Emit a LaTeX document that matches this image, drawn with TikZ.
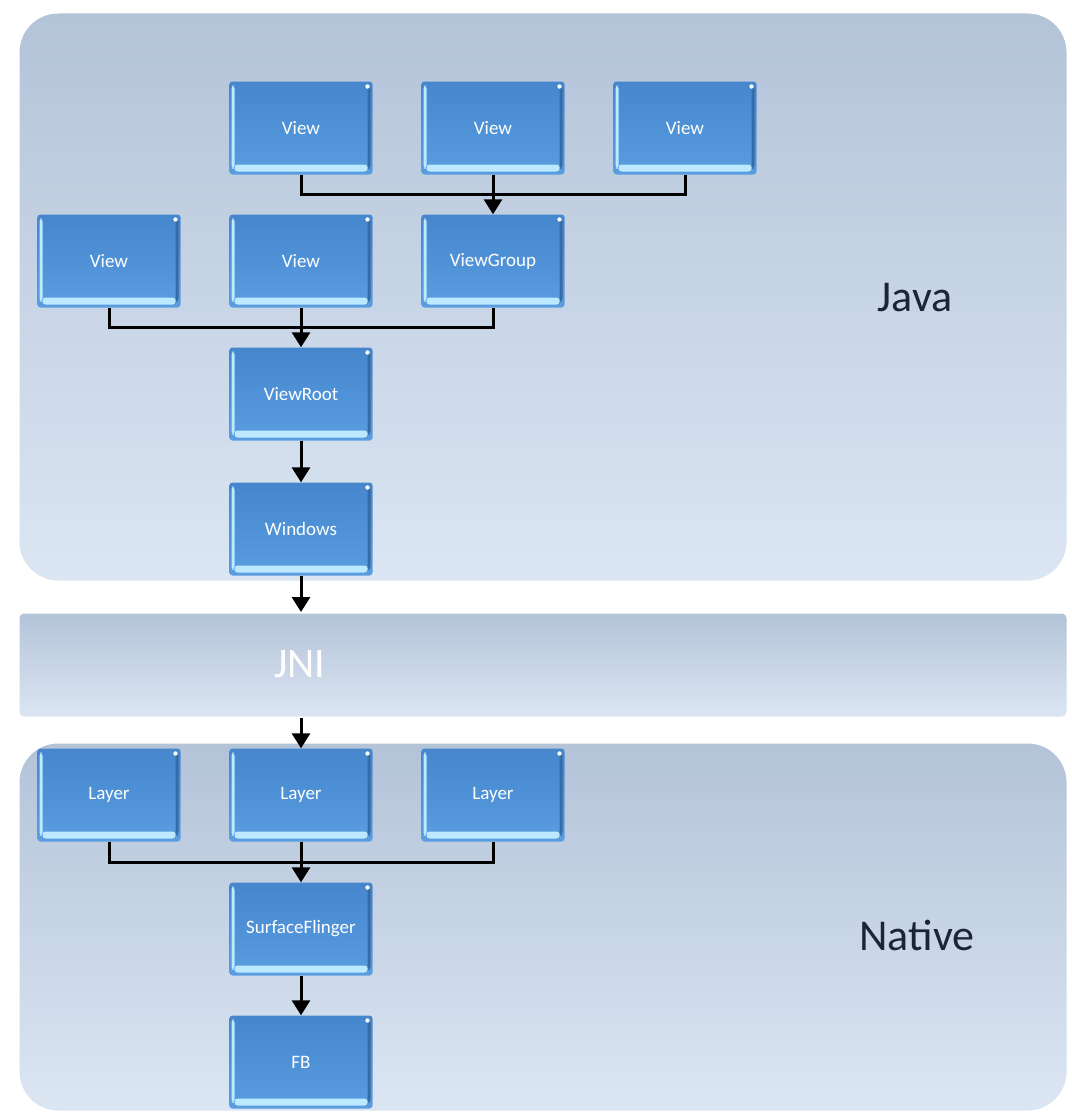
\documentclass[tikz,border=0pt]{standalone}
\usepackage{fontspec}
\setmainfont{Carlito}
\usetikzlibrary{arrows.meta,positioning,calc}
\definecolor{panelTop}{HTML}{B3C3D8}
\definecolor{panelBot}{HTML}{DCE6F3}
\definecolor{boxTop}{HTML}{4586CD}
\definecolor{boxBot}{HTML}{5A9DE0}
\definecolor{bevel}{HTML}{BDE9FF}
\definecolor{labelInk}{HTML}{1C2533}
\tikzset{
  panel/.style={draw=white, line width=3pt, top color=panelTop, bottom color=panelBot},
  box/.style={rectangle, rounded corners=3pt, minimum width=143pt, minimum height=93pt,
    top color=boxTop, bottom color=boxBot, text=white, font=\fontsize{19}{21}\selectfont,
    path picture={
      \fill[bevel] ([xshift=5pt,yshift=3pt]path picture bounding box.south west) rectangle ([xshift=-5pt,yshift=10pt]path picture bounding box.south east);
      \fill[bevel] ([xshift=2pt,yshift=6pt]path picture bounding box.south west) rectangle ([xshift=5pt,yshift=-4pt]path picture bounding box.north west);
      \fill[boxTop!80!black] ([xshift=-5pt,yshift=6pt]path picture bounding box.south east) rectangle ([xshift=-2pt,yshift=-4pt]path picture bounding box.north east);
      \fill[white] ([xshift=-5pt,yshift=-5pt]path picture bounding box.north east) circle (2.2pt);
    }},
  link/.style={line width=3pt, black},
  arr/.style={link, -{Triangle[width=18pt,length=15pt]}},
  layername/.style={text=labelInk, font=\fontsize{44}{48}\selectfont}
}
\begin{document}
\begin{tikzpicture}[x=1pt,y=-1pt]
\useasboundingbox (0,0) rectangle (1071,1116);
% layers
\draw[panel, rounded corners=40pt] (18,12) rectangle (1068,582);
\draw[panel, rounded corners=6pt] (18,612) rectangle (1068,718);
\draw[panel, rounded corners=40pt] (18,742) rectangle (1068,1112);
\node[layername] (java) at (915,298) {Java};
\node[layername] (native) at (917,935) {Native};
\node[text=white, font=\fontsize{42}{46}\selectfont] (jni) at (300,664) {JNI};

% java side
\node[box] (v1) at (301,128) {View};
\node[box] (v2) at (493,128) {View};
\node[box] (v3) at (685,128) {View};
\node[box] (v4) at (109,261) {View};
\node[box] (v5) at (301,261) {View};
\node[box] (vg) at (493,261) {ViewGroup};
\node[box] (root) at (301,394) {ViewRoot};
\node[box] (win) at (301,529) {Windows};
\coordinate (jniTop) at (301,612);
\coordinate (jniBot) at (301,718);

% native side
\node[box] (l1) at (109,795) {Layer};
\node[box] (l2) at (301,795) {Layer};
\node[box] (l3) at (493,795) {Layer};
\node[box] (sf) at (301,929) {SurfaceFlinger};
\node[box] (fb) at (301,1062) {FB};

% connectors
\draw[link] (v1.south) -- ++(0,20) -| (v3.south);
\draw[arr] (v2.south) -- (vg.north);
\draw[link] (v4.south) -- ++(0,20) -| (vg.south);
\draw[arr] (v5.south) -- (root.north);
\draw[arr] (root.south) -- (win.north);
\draw[arr] (win.south) -- (jniTop);
\draw[arr] (jniBot) -- (l2.north);
\draw[link] (l1.south) -- ++(0,21) -| (l3.south);
\draw[arr] (l2.south) -- (sf.north);
\draw[arr] (sf.south) -- (fb.north);
\end{tikzpicture}
\end{document}
